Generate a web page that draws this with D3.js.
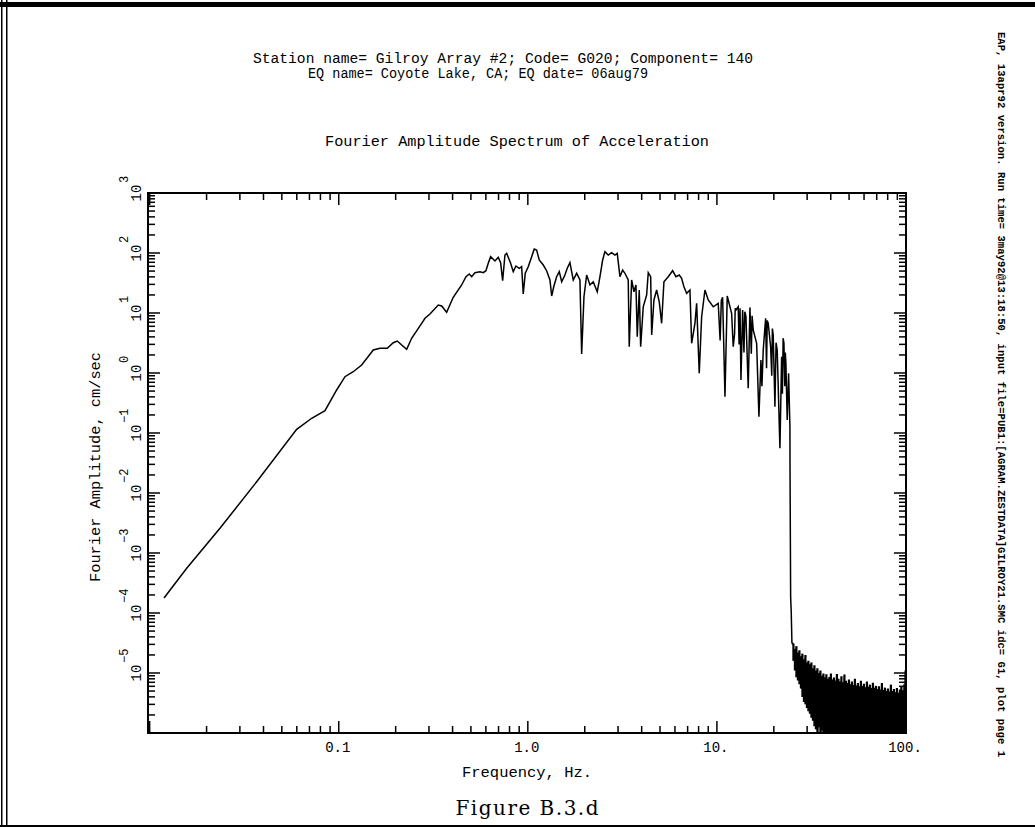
<!DOCTYPE html>
<html>
<head>
<meta charset="utf-8">
<script src="https://cdn.jsdelivr.net/npm/d3@7"></script>
<style>
  body { margin: 0; background: #fff; }
  svg { display: block; }
</style>
</head>
<body>
<div id="chart"></div>
<script>
// Fourier amplitude spectrum: [frequency Hz, amplitude cm/sec]
const spectrum = [
    [0.01191, 1.78e-4], [0.01570, 5.56e-4], [0.02354, 2.58e-3], [0.03681, 1.54e-2],
    [0.05991, 0.115], [0.07193, 0.176], [0.08457, 0.236], [0.0975, 0.521],
    [0.1079, 0.868], [0.1193, 1.05], [0.1322, 1.36], [0.1523, 2.42],
    [0.1652, 2.58], [0.1806, 2.58], [0.1942, 3.20], [0.2040, 3.41],
    [0.2152, 2.93], [0.2287, 2.48], [0.2429, 3.79], [0.2745, 6.73],
    [0.2858, 8.16], [0.3037, 9.62], [0.3360, 13.6], [0.3502, 13.1],
    [0.3721, 10.3], [0.4032, 18.3], [0.4468, 29.3], [0.4708, 40.3],
    [0.4900, 44.7], [0.5046, 40.3], [0.5253, 47.0], [0.5582, 48.8],
    [0.5811, 47.0], [0.6004, 50.7], [0.6175, 67.3], [0.6358, 86.8],
    [0.6701, 73.6], [0.6975, 84.8], [0.7182, 68.9], [0.7359, 34.5],
    [0.7568, 92.6], [0.7727, 98.9], [0.8112, 67.3], [0.8373, 48.8],
    [0.8654, 60.7], [0.9008, 55.6], [0.9275, 59.1], [0.9458, 20.7],
    [0.9692, 45.9], [1.005, 59.1], [1.048, 86.8], [1.081, 116.6],
    [1.113, 112.2], [1.149, 76.4], [1.207, 63.1], [1.257, 50.7],
    [1.309, 35.5], [1.337, 19.2], [1.374, 28.2], [1.420, 40.3],
    [1.466, 48.8], [1.510, 33.2], [1.571, 43.0], [1.616, 55.6],
    [1.670, 68.9], [1.705, 48.8], [1.739, 35.5], [1.812, 45.9],
    [1.886, 35.5], [1.926, 2.07], [1.981, 18.7], [2.047, 43.0],
    [2.131, 29.3], [2.218, 33.2], [2.329, 22.6], [2.407, 40.3],
    [2.487, 76.4], [2.557, 105.1], [2.662, 92.6], [2.775, 101.2],
    [2.889, 92.6], [2.971, 98.9], [3.070, 40.3], [3.172, 52.1],
    [3.263, 45.9], [3.396, 35.5], [3.438, 2.74], [3.540, 35.5],
    [3.641, 22.6], [3.730, 29.3], [3.790, 4.03], [3.884, 24.2],
    [3.951, 2.74], [4.077, 12.7], [4.250, 20.0], [4.334, 47.0],
    [4.463, 40.3], [4.518, 4.30], [4.645, 16.5], [4.800, 24.2],
    [4.955, 15.4], [5.101, 6.73], [5.246, 33.2], [5.527, 40.3],
    [5.832, 50.7], [6.071, 40.3], [6.320, 43.0], [6.507, 37.9],
    [6.692, 27.4], [6.917, 21.3], [7.200, 24.2], [7.351, 3.13],
    [7.652, 6.73], [7.812, 14.5], [8.064, 0.99], [8.303, 8.68],
    [8.643, 24.2], [8.998, 16.5], [9.561, 12.7], [10.16, 14.5],
    [10.40, 3.5], [10.55, 16.0], [10.72, 18.3], [11.03, 0.403],
    [11.34, 19.2], [11.96, 9.89], [12.20, 2.74], [12.40, 4.5],
    [12.50, 12.0], [12.60, 11.2], [12.96, 12.7], [13.10, 3.0],
    [13.25, 12.0], [13.40, 0.764], [13.68, 11.2], [13.90, 2.2],
    [14.05, 10.5], [14.24, 8.68], [14.64, 0.556], [14.95, 12.4],
    [15.20, 2.1], [15.35, 9.0], [15.56, 5.21], [16.22, 3.13],
    [16.68, 0.187], [17.09, 1.65], [17.30, 0.6], [17.58, 2.42],
    [18.10, 8.16], [18.30, 1.2], [18.45, 7.5], [18.68, 6.73],
    [19.23, 2.74], [19.50, 0.9], [19.65, 5.5], [19.85, 4.30],
    [20.27, 0.274], [20.55, 3.2], [20.84, 2.42], [21.54, 0.0556],
    [21.99, 1.87], [22.20, 0.45], [22.40, 3.8], [22.62, 3.13],
    [22.85, 0.6], [23.00, 2.2], [23.17, 1.45], [23.54, 0.165],
    [23.94, 0.99], [24.33, 0.127], [24.36, 0.0242], [24.54, 1.87e-4],
    [24.72, 1.04e-4], [24.93, 3.16e-5]
];

// Noise floor above the cut-off: [frequency Hz, top of band, bottom of band]
const noiseBand = [
    [25.39, 3.0e-5, 1.6e-5], [25.85, 2.5e-5, 1.1e-5], [26.33, 2.8e-5, 8.5e-6],
    [26.81, 2.2e-5, 7.5e-6], [27.31, 2.4e-5, 6.5e-6], [27.82, 1.9e-5, 5.5e-6],
    [28.33, 2.1e-5, 4.0e-6], [28.86, 1.7e-5, 3.3e-6], [29.39, 2.0e-5, 3.0e-6],
    [29.92, 1.5e-5, 2.6e-6], [30.47, 1.6e-5, 2.3e-6], [31.04, 1.4e-5, 2.1e-6],
    [31.61, 1.5e-5, 1.8e-6], [32.19, 1.2e-5, 1.6e-6], [32.79, 1.35e-5, 1.3e-6],
    [33.39, 1.1e-5, 1.15e-6], [34.00, 1.2e-5, 8e-7], [34.63, 1.0e-5, 1.25e-6],
    [35.27, 1.1e-5, 7e-7], [35.92, 9.0e-6, 1.1e-6], [36.58, 9.8e-6, 6e-7],
    [37.26, 8.5e-6, 5e-7], [37.94, 9.5e-6, 5e-7], [38.64, 8.0e-6, 4e-7],
    [39.36, 8.6e-6, 5e-7], [40.08, 9.8e-6, 4e-7], [40.82, 7.8e-6, 5e-7],
    [41.58, 8.4e-6, 4e-7], [42.34, 7.5e-6, 5e-7], [43.12, 9.6e-6, 4e-7],
    [43.92, 8.0e-6, 5e-7], [44.73, 7.2e-6, 4e-7], [45.55, 8.8e-6, 5e-7],
    [46.39, 7.0e-6, 4e-7], [47.25, 9.4e-6, 5e-7], [48.12, 7.4e-6, 4e-7],
    [49.00, 6.8e-6, 5e-7], [49.91, 7.8e-6, 4e-7], [50.82, 6.5e-6, 5e-7],
    [51.76, 7.2e-6, 4e-7], [52.71, 6.3e-6, 5e-7], [53.69, 8.0e-6, 4e-7],
    [54.68, 6.2e-6, 5e-7], [55.68, 6.8e-6, 4e-7], [56.71, 6.0e-6, 5e-7],
    [57.75, 7.4e-6, 4e-7], [58.82, 6.1e-6, 5e-7], [59.90, 6.6e-6, 4e-7],
    [61.00, 5.8e-6, 5e-7], [62.13, 7.2e-6, 4e-7], [63.27, 5.9e-6, 5e-7],
    [64.44, 6.4e-6, 4e-7], [65.63, 5.6e-6, 5e-7], [66.83, 6.9e-6, 4e-7],
    [68.07, 5.7e-6, 5e-7], [69.33, 6.1e-6, 4e-7], [70.60, 5.4e-6, 5e-7],
    [71.91, 6.0e-6, 4e-7], [73.24, 5.3e-6, 5e-7], [74.58, 6.8e-6, 4e-7],
    [75.95, 5.2e-6, 5e-7], [77.36, 5.7e-6, 4e-7], [78.78, 5.0e-6, 5e-7],
    [80.23, 5.5e-6, 4e-7], [81.72, 4.9e-6, 5e-7], [83.22, 6.4e-6, 4e-7],
    [84.75, 5.0e-6, 5e-7], [86.32, 5.4e-6, 4e-7], [87.90, 4.8e-6, 5e-7],
    [89.52, 5.6e-6, 4e-7], [91.17, 4.7e-6, 5e-7], [92.86, 5.3e-6, 4e-7],
    [94.56, 6.0e-6, 5e-7], [96.30, 5.0e-6, 4e-7], [98.08, 6.5e-6, 5e-7],
    [99.5, 1.1e-5, 4e-7], [100, 8e-6, 4e-7]
];

const xDomain = [0.0098, 100];
const yDomain = [1e-6, 1e3];
const xTickValues = [0.1, 1, 10, 100];
const xTickLabels = ["0.1", "1.0", "10.", "100."];
const yTickExponents = [3, 2, 1, 0, -1, -2, -3, -4, -5];

const titleLines = [
    "Station name= Gilroy Array #2; Code= G020; Component= 140",
    "EQ name= Coyote Lake, CA; EQ date= 06aug79"
];
const plotTitle = "Fourier Amplitude Spectrum of Acceleration";
const xLabel = "Frequency, Hz.";
const yLabel = "Fourier Amplitude, cm/sec";
const sideNote = "EAP, 13apr92 version. Run time= 3may92@13:18:50, input file=PUB1:[AGRAM.ZESTDATA]GILROY21.SMC idc= G1, plot page 1";
const caption = "Figure B.3.d";

const width = 1035, height = 827;
const margin = { top: 193, right: 129, bottom: 94, left: 148 };
const mono = "'Liberation Mono', 'Courier New', monospace";

const svg = d3.select("#chart")
    .append("svg")
    .attr("width", width)
    .attr("height", height);

svg.append("rect").attr("width", width).attr("height", height).attr("fill", "#fff");

// page border
svg.append("rect").attr("x", 0).attr("y", 2).attr("width", width).attr("height", 5).attr("fill", "#000");
svg.append("rect").attr("x", 0).attr("y", 825).attr("width", width).attr("height", 2).attr("fill", "#000");
svg.append("rect").attr("x", 1).attr("y", 0).attr("width", 1.5).attr("height", height).attr("fill", "#000");
svg.append("rect").attr("x", 6).attr("y", 0).attr("width", 1.5).attr("height", height).attr("fill", "#000");

const x = d3.scaleLog().domain(xDomain).range([margin.left, width - margin.right]);
const y = d3.scaleLog().domain(yDomain).range([height - margin.bottom, margin.top]);
const x0 = x.range()[0], x1 = x.range()[1];
const y0 = y.range()[0], y1 = y.range()[1];

// clip to the plot area
svg.append("clipPath").attr("id", "plot-clip")
    .append("rect")
    .attr("x", x0).attr("y", y1)
    .attr("width", x1 - x0).attr("height", y0 - y1);

const line = d3.line()
    .x(d => x(d[0]))
    .y(d => y(d[1]));

const plot = svg.append("g").attr("clip-path", "url(#plot-clip)");

plot.append("path")
    .datum(spectrum)
    .attr("d", line)
    .attr("fill", "none")
    .attr("stroke", "#000")
    .attr("stroke-width", 1.5);

// noise band drawn as vertical strokes between its top and bottom edges
const bandPoints = [spectrum[spectrum.length - 1]]
    .concat(noiseBand.flatMap(d => [[d[0], d[1]], [d[0], d[2]]]));
plot.append("path")
    .datum(bandPoints)
    .attr("d", line)
    .attr("fill", "none")
    .attr("stroke", "#000")
    .attr("stroke-width", 2.2);

// frame
svg.append("rect")
    .attr("x", x0).attr("y", y1)
    .attr("width", x1 - x0).attr("height", y0 - y1)
    .attr("fill", "none")
    .attr("stroke", "#000")
    .attr("stroke-width", 2);

const isMajor = v => Math.abs(Math.log10(v) - Math.round(Math.log10(v))) < 1e-6;
const tickLen = v => isMajor(v) ? 12 : 7;
const ticks = svg.append("g").attr("stroke", "#000").attr("stroke-width", 1.5);

const xt = x.ticks(40);
ticks.selectAll(".xb").data(xt).enter().append("line")
    .attr("x1", d => x(d)).attr("x2", d => x(d))
    .attr("y1", y0).attr("y2", d => y0 - tickLen(d));
ticks.selectAll(".xt").data(xt).enter().append("line")
    .attr("x1", d => x(d)).attr("x2", d => x(d))
    .attr("y1", y1).attr("y2", d => y1 + tickLen(d));

const yt = y.ticks(40);
ticks.selectAll(".yl").data(yt).enter().append("line")
    .attr("y1", d => y(d)).attr("y2", d => y(d))
    .attr("x1", x0).attr("x2", d => x0 + tickLen(d));
ticks.selectAll(".yr").data(yt).enter().append("line")
    .attr("y1", d => y(d)).attr("y2", d => y(d))
    .attr("x1", x1).attr("x2", d => x1 - tickLen(d));

// x tick labels
svg.selectAll(".xlab").data(xTickValues).enter().append("text")
    .attr("x", d => x(d) - 1)
    .attr("y", 752)
    .attr("text-anchor", "middle")
    .style("font-family", mono)
    .style("font-size", "14px")
    .text((d, i) => xTickLabels[i]);

// y tick labels: rotated 10 with exponent
const ylab = svg.selectAll(".ylab").data(yTickExponents).enter().append("g")
    .attr("transform", d => `translate(141, ${y(Math.pow(10, d))}) rotate(-90)`)
    .style("font-family", mono);
ylab.append("text")
    .attr("text-anchor", "middle")
    .style("font-size", "14px")
    .text("10");
ylab.append("text")
    .attr("x", 10)
    .attr("y", -13)
    .style("font-size", "12px")
    .text(d => d < 0 ? "\u2212" + Math.abs(d) : String(d));

// titles
svg.append("text").attr("x", 253).attr("y", 63)
    .attr("textLength", 500).attr("lengthAdjust", "spacingAndGlyphs")
    .style("font-family", mono).style("font-size", "14.5px").text(titleLines[0]);
svg.append("text").attr("x", 308).attr("y", 78)
    .attr("textLength", 340).attr("lengthAdjust", "spacingAndGlyphs")
    .style("font-family", mono).style("font-size", "14.5px").text(titleLines[1]);
svg.append("text").attr("x", 325).attr("y", 146)
    .attr("textLength", 384).attr("lengthAdjust", "spacingAndGlyphs")
    .style("font-family", mono).style("font-size", "14.5px").text(plotTitle);

// axis labels
svg.append("text").attr("x", 462).attr("y", 777)
    .attr("textLength", 130).attr("lengthAdjust", "spacingAndGlyphs")
    .style("font-family", mono).style("font-size", "14.5px").text(xLabel);
svg.append("text")
    .attr("transform", `translate(100, ${(y0 + y1) / 2 + 4}) rotate(-90)`)
    .attr("text-anchor", "middle")
    .attr("textLength", 230).attr("lengthAdjust", "spacingAndGlyphs")
    .style("font-family", mono).style("font-size", "15px").text(yLabel);

// run note down the right side
svg.append("text")
    .attr("transform", "translate(998, 32) rotate(90)")
    .attr("textLength", 725).attr("lengthAdjust", "spacingAndGlyphs")
    .style("font-family", mono).style("font-size", "10px").style("font-weight", "bold")
    .text(sideNote);

// caption
svg.append("text").attr("x", 527).attr("y", 815)
    .attr("text-anchor", "middle")
    .attr("textLength", 143).attr("lengthAdjust", "spacing")
    .style("font-family", "'DejaVu Serif', serif").style("font-size", "20px")
    .text(caption);
</script>
</body>
</html>
